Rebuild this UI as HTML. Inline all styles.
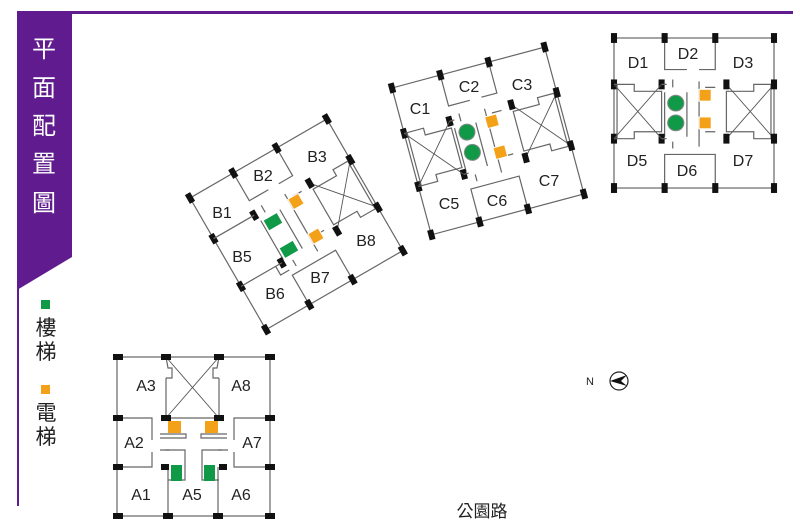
<!DOCTYPE html>
<html><head><meta charset="utf-8"><style>
html,body{margin:0;padding:0;background:#fff;}
svg{display:block;}
text{font-family:"Liberation Sans",sans-serif;}
.cjk{font-family:"Liberation Sans","Noto Sans CJK TC",sans-serif;}
</style></head><body>
<svg width="800" height="530" viewBox="0 0 800 530" xmlns="http://www.w3.org/2000/svg">
<defs>
<g id="base" fill="none" stroke="#666" stroke-width="1.2">
  <rect x="0" y="0" width="158" height="152"/>
  <path d="M50 0 V32 H72 M84 32 H100 V0"/>
  <path d="M50 152 V118 H100 V152"/>
  <path d="M158 47 H138 V54 H111 V95 H138 V102 H158"/>
  <path d="M155 47 V102"/>
  <path d="M158 47 L111 102 M158 102 L111 47" stroke="#555" stroke-width="0.9"/>
  <path d="M50 55 V100 M72 55 V100 M58 42 V50 M58 105 V112"/>
  <path d="M84 44 V110 M90 50 H100 M90 95 H100"/>
  <g fill="#111" stroke="none">
    <rect x="-3" y="-5" width="6" height="10"/><rect x="155" y="-5" width="6" height="10"/>
    <rect x="-3" y="147" width="6" height="10"/><rect x="155" y="147" width="6" height="10"/>
    <rect x="47" y="-5" width="6" height="10"/><rect x="97" y="-5" width="6" height="10"/>
    <rect x="47" y="147" width="6" height="10"/><rect x="97" y="147" width="6" height="10"/>
    <rect x="-3" y="42" width="6" height="10"/><rect x="-3" y="97" width="6" height="10"/>
    <rect x="155" y="42" width="6" height="10"/><rect x="155" y="97" width="6" height="10"/>
    <rect x="44" y="42" width="6" height="10"/><rect x="44" y="97" width="6" height="10"/>
    <rect x="108" y="42" width="6" height="10"/><rect x="108" y="97" width="6" height="10"/>
  </g>
</g>
<g id="leftx" fill="none" stroke="#666" stroke-width="1.2">
  <path d="M0 47 H20 V54 H47 V95 H20 V102 H0"/>
  <path d="M3 47 V102" />
  <path d="M0 47 L47 102 M0 102 L47 47" stroke="#555" stroke-width="0.9"/>
  <path d="M47 47 H52 M47 102 H52"/>
</g>
<g id="leftw" fill="none" stroke="#666" stroke-width="1.2">
  <path d="M0 47 H47 M0 102 H47 M40 102 V112 H50"/>
</g>
</defs>

<rect x="17" y="11" width="776" height="3" fill="#601c8e"/>
<rect x="17" y="12" width="2" height="494" fill="#601c8e"/>
<polygon points="17,12 72,12 72,257 17,290" fill="#601c8e"/>
<g class="cjk" fill="#fff" font-size="24" text-anchor="middle">
<text x="44" y="57">平</text><text x="44" y="96">面</text><text x="44" y="134">配</text><text x="44" y="172">置</text><text x="44" y="211">圖</text>
</g>
<rect x="41" y="300" width="9" height="9" fill="#109a48"/>
<rect x="41" y="385" width="9" height="9" fill="#f4a11a"/>
<g class="cjk" fill="#222" font-size="21" text-anchor="middle">
<text x="46" y="335">樓</text><text x="46" y="359">梯</text>
<text x="46" y="420">電</text><text x="46" y="444">梯</text>
</g>

<!-- Building B -->
<g transform="translate(190,198) rotate(-30)">
  <use href="#base"/><use href="#leftw"/>
  <rect x="84" y="50" width="12" height="12" fill="#f4a11a" stroke="#fff"/>
  <rect x="84" y="90" width="12" height="12" fill="#f4a11a" stroke="#fff"/>
  <rect x="52" y="56" width="16" height="12" fill="#109a48" stroke="#fff"/>
  <rect x="52" y="88" width="16" height="12" fill="#109a48" stroke="#fff"/>
</g>
<g font-size="16" fill="#222" text-anchor="middle">
<text x="222" y="218">B1</text><text x="263" y="181">B2</text><text x="317" y="162">B3</text>
<text x="366" y="246">B8</text><text x="242" y="262">B5</text><text x="275" y="299">B6</text><text x="320" y="283">B7</text>
</g>

<!-- Building C -->
<g transform="translate(392,88) rotate(-15)">
  <use href="#base"/><use href="#leftx"/>
  <rect x="82" y="52" width="12" height="12" fill="#f4a11a" stroke="#fff"/>
  <rect x="82" y="84" width="12" height="12" fill="#f4a11a" stroke="#fff"/>
  <circle cx="61" cy="62" r="8" fill="#109a48" stroke="#888"/>
  <circle cx="61" cy="83" r="8" fill="#109a48" stroke="#888"/>
</g>
<g font-size="16" fill="#222" text-anchor="middle">
<text x="420" y="114">C1</text><text x="469" y="92">C2</text><text x="522" y="90">C3</text>
<text x="449" y="209">C5</text><text x="497" y="206">C6</text><text x="549" y="186">C7</text>
</g>

<!-- Building D -->
<g transform="translate(614,38) scale(1.0127,0.987)">
  <use href="#base"/><use href="#leftx"/>
  <rect x="84" y="52" width="12" height="12" fill="#f4a11a" stroke="#fff"/>
  <rect x="84" y="80" width="12" height="12" fill="#f4a11a" stroke="#fff"/>
  <circle cx="61" cy="66" r="8" fill="#109a48" stroke="#888"/>
  <circle cx="61" cy="86" r="8" fill="#109a48" stroke="#888"/>
</g>
<g font-size="16" fill="#222" text-anchor="middle">
<text x="638" y="68">D1</text><text x="688" y="59">D2</text><text x="743" y="68">D3</text>
<text x="637" y="166">D5</text><text x="687" y="176">D6</text><text x="743" y="166">D7</text>
</g>

<!-- Building A -->
<g fill="none" stroke="#666" stroke-width="1.2">
  <rect x="117" y="357" width="153" height="159"/>
  <path d="M166 357 L168 368 H172 V378 H166"/>
  <path d="M219 357 L217 368 H213 V378 H219"/>
  <path d="M166 378 V418 H219 V378"/>
  <path d="M166 357 L219 418 M219 357 L166 418" stroke="#555" stroke-width="0.9"/>
  <path d="M117 418 H152 V440 M152 452 V467 H117"/>
  <path d="M270 418 H234 V440 M234 452 V467 H270"/>
  <path d="M160 434 H186 V438 H160 M227 434 H201 V438 H227"/>
  <path d="M165 450 H185 V480 H168 M222 450 H202 V480 H219"/>
  <path d="M168 467 V516 M218 467 V516 M160 450 H170 M218 450 H228"/>
</g>
<g fill="#111">
  <rect x="113" y="354" width="10" height="6"/><rect x="161" y="354" width="10" height="6"/>
  <rect x="214" y="354" width="10" height="6"/><rect x="265" y="354" width="10" height="6"/>
  <rect x="113" y="415" width="10" height="6"/><rect x="265" y="415" width="10" height="6"/>
  <rect x="161" y="415" width="10" height="6"/><rect x="214" y="415" width="10" height="6"/>
  <rect x="113" y="464" width="10" height="6"/><rect x="265" y="464" width="10" height="6"/>
  <rect x="161" y="464" width="8" height="6"/><rect x="219" y="464" width="8" height="6"/>
  <rect x="113" y="513" width="10" height="6"/><rect x="265" y="513" width="10" height="6"/>
  <rect x="163" y="513" width="10" height="6"/><rect x="213" y="513" width="10" height="6"/>
</g>
<rect x="168" y="421" width="13" height="12" fill="#f4a11a"/>
<rect x="205" y="421" width="13" height="12" fill="#f4a11a"/>
<rect x="171" y="465" width="11" height="16" fill="#109a48"/>
<rect x="204" y="465" width="11" height="16" fill="#109a48"/>
<g font-size="16" fill="#222" text-anchor="middle">
<text x="146" y="391">A3</text><text x="241" y="391">A8</text>
<text x="134" y="448">A2</text><text x="252" y="448">A7</text>
<text x="141" y="500">A1</text><text x="192" y="500">A5</text><text x="241" y="500">A6</text>
</g>

<text x="586" y="385" font-size="11" fill="#222">N</text>
<circle cx="619" cy="381" r="9" fill="none" stroke="#222" stroke-width="1.2"/>
<path d="M610 381 L627 375 L621 381 L627 386 Z" fill="#111"/>

<text x="482" y="517" class="cjk" font-size="17" fill="#222" text-anchor="middle">公園路</text>
</svg>
</body></html>
